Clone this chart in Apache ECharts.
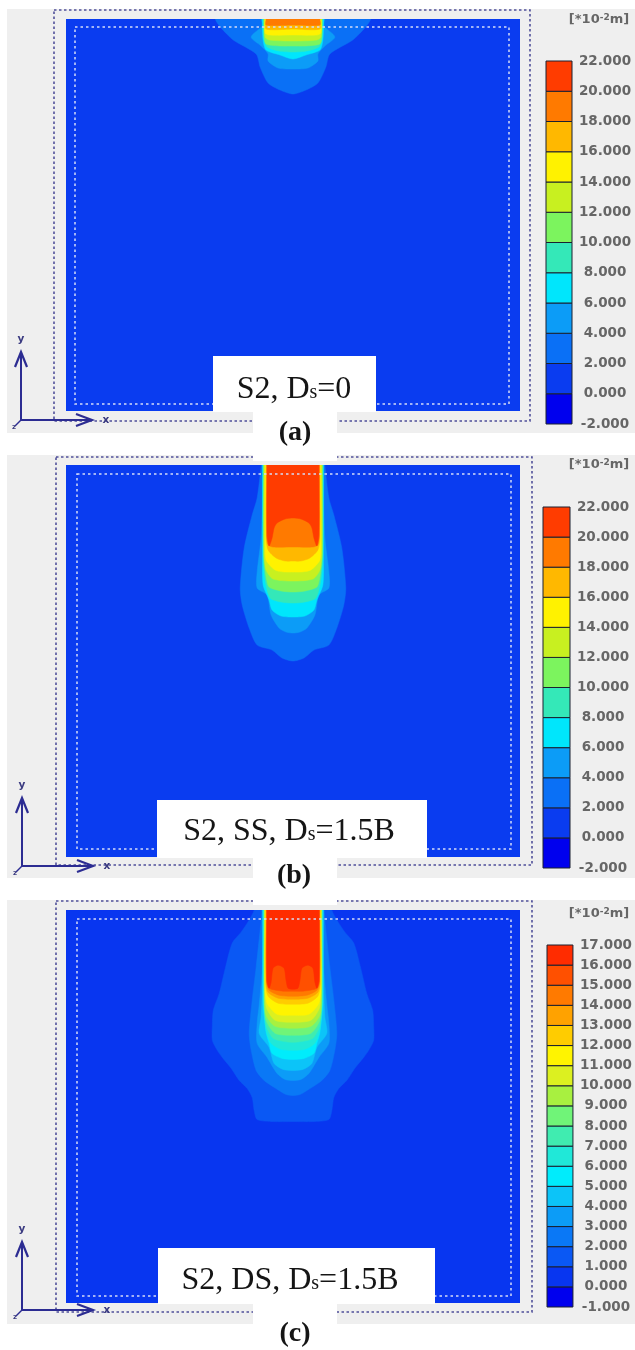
<!DOCTYPE html>
<html><head><meta charset="utf-8">
<style>html,body{margin:0;padding:0;background:#fff}#c{width:635px;height:1350px;filter:blur(0.55px)}</style>
<script src="https://cdn.jsdelivr.net/npm/echarts@6/dist/echarts.min.js"></script>
</head><body><div id="c"></div>
<script>
// ---- colour-bar tick labels (x 10^-2 m)
const ticksAB = [-2,0,2,4,6,8,10,12,14,16,18,20,22];
const ticksC = [-1,0,1,2,3,4,5,6,7,8,9,10,11,12,13,14,15,16,17];
const coloursAB = ['#0000ee','#0a3cf0','#0a70f6','#0c9cf7','#00e6fc','#34e8b8','#7cf45e','#c8f020','#fff200','#ffb800','#ff7a00','#ff3c00'];
const coloursC = ['#0000ee','#0836f0','#0a58f4','#0a78f6','#0c9cf7','#0cc4f8','#00ecfc','#20e8d8','#40ecb0','#70f478','#a8f040','#dcf020','#fff400','#ffcc00','#ffa200','#ff7a00','#ff5000','#ff2c00'];
// ---- contour half-profiles: [half-width, depth]; domain half-width 228, depth 392
const panelA_2 = [[78,0],[73,8],[60,21],[37,35],[33,48],[25,64],[13,71],[0,75]];
const panelA_4 = [[32,0],[30,6],[42,18],[32,27],[25,35],[25,42],[15,49],[0,50]];
const panelA_6 = [[31,0],[30,21],[27,31],[13,36],[0,40]];
const panelA_8 = [[30,0],[29,20],[26,28],[14,32],[0,33]];
const panelA_10 = [[29,0],[29,18],[27,25],[12,27],[0,27]];
const panelA_12 = [[29,0],[28,18],[24,21],[0,22]];
const panelA_14 = [[28,0],[28,14],[24,16],[0,16]];
const panelA_16 = [[27,0],[27,10],[0,10]];
const panelA_18 = [[27,0],[27,6],[0,6]];

const panelB_2 = [[32,0],[36,33],[41,50],[49,83],[53,123],[51,140],[44,163],[36,180],[21,185],[11,193],[0,196]];
const panelB_4 = [[31,0],[31,40],[32,73],[36,107],[36,123],[26,130],[22,150],[14,163],[7,167],[0,168]];
const panelB_6 = [[30.5,0],[30.5,90],[30,120],[24,135],[21,145],[12,151],[0,152]];
const panelB_8 = [[30,0],[30,90],[28,115],[23,133],[12,137],[0,138]];
const panelB_10 = [[29.5,0],[29.5,90],[27,112],[24,122],[12,126],[0,127]];
const panelB_12 = [[29,0],[29,85],[27,105],[20,114],[0,116]];
const panelB_14 = [[28,0],[28,75],[27,95],[18,105],[8,107],[0,107]];
const panelB_16 = [[27,0],[27,72],[25,85],[17,93],[8,96],[0,96]];
const panelB_18 = [[26.5,0],[26.5,70],[25,80],[20,82],[0,82]];
const panelB_20 = [[26,0],[26,70],[24,81],[21,73],[19,63],[16,58],[8,54],[0,53]];

const panelC_1 = [[39,0],[44,10],[52,22],[61,33],[68,58],[74,83],[80,100],[81,115],[81,130],[76,140],[71,147],[62,158],[54,170],[46,178],[41,187],[39,200],[36,209],[20,211],[0,211]];
const panelC_2 = [[31,0],[37,57],[41,90],[44,123],[42,140],[37,160],[29,170],[14,180],[7,184],[0,185]];
const panelC_3 = [[31,0],[31,60],[34,95],[36,113],[36,133],[26,147],[16,163],[8,169],[0,170]];
const panelC_4 = [[30.5,0],[30.5,70],[32,107],[34,123],[24,137],[19,153],[10,159],[0,160]];
const panelC_5 = [[30,0],[30,90],[27,122],[24,133],[21,143],[11,148],[0,149]];
const panelC_6 = [[29.5,0],[29.5,90],[27,120],[22,133],[12,139],[0,140]];
const panelC_7 = [[29,0],[29,90],[27,115],[20,128],[10,131],[0,132]];
const panelC_8 = [[29,0],[29,88],[27,110],[18,123],[0,125]];
const panelC_9 = [[28.5,0],[28.5,85],[27,105],[18,116],[0,118]];
const panelC_10 = [[28,0],[28,82],[26.5,98],[18,110],[0,112]];
const panelC_11 = [[28,0],[28,78],[26,93],[16,104],[0,105]];
const panelC_12 = [[27.5,0],[27.5,75],[25,86],[15,93],[0,94]];
const panelC_13 = [[27,0],[27,72],[25,82],[15,88],[0,89]];
const panelC_14 = [[26.5,0],[26.5,72],[24,80],[14,85],[0,86]];
const panelC_15 = [[26.5,0],[26.5,70],[24,78],[10,81],[0,81]];
const panelC_16 = [[26,0],[26,70],[24,78],[22,72],[20,58],[15,55],[9,58],[7,70],[5,78],[0,79]];

const panels = [
  {box:{left:66,top:19,width:454,height:392}, bar:{left:546,top:61,width:26,height:363}, ticks:ticksAB, step:2, cols:coloursAB,
   bands:[[2,panelA_2],[4,panelA_4],[6,panelA_6],[8,panelA_8],[10,panelA_10],[12,panelA_12],[14,panelA_14],[16,panelA_16],[18,panelA_18]]},
  {box:{left:66,top:465,width:454,height:392}, bar:{left:543,top:507,width:27,height:361}, ticks:ticksAB, step:2, cols:coloursAB,
   bands:[[2,panelB_2],[4,panelB_4],[6,panelB_6],[8,panelB_8],[10,panelB_10],[12,panelB_12],[14,panelB_14],[16,panelB_16],[18,panelB_18],[20,panelB_20]]},
  {box:{left:66,top:910,width:454,height:393}, bar:{left:547,top:945,width:26,height:362}, ticks:ticksC, step:1, cols:coloursC,
   bands:[[1,panelC_1],[2,panelC_2],[3,panelC_3],[4,panelC_4],[5,panelC_5],[6,panelC_6],[7,panelC_7],[8,panelC_8],[9,panelC_9],[10,panelC_10],[11,panelC_11],[12,panelC_12],[13,panelC_13],[14,panelC_14],[15,panelC_15],[16,panelC_16]]}
];

const grids=[],xAxes=[],yAxes=[],series=[];
function mirror(p){
  const r=p.map(q=>[q[0],q[1]]);
  const l=p.slice().reverse().filter(q=>q[0]!==0).map(q=>[-q[0],q[1]]);
  return [[p[0][0],-12],...r,...l,[-p[0][0],-12]];
}
function polySeries(g,points,colour,z,smooth){
  return {type:'custom',coordinateSystem:'cartesian2d',xAxisIndex:g,yAxisIndex:g,z:z,silent:true,clip:true,
    data:points,
    encode:{x:0,y:1},
    renderItem:function(params,api){
      if(params.dataIndex!==0) return null;
      return {type:'polygon',shape:{points:points.map(q=>api.coord(q)),smooth:smooth},style:{fill:colour,stroke:colour,lineWidth:0.5}};
    }};
}
panels.forEach(function(p){
  let g=grids.length;
  grids.push(Object.assign({show:false},p.box));
  xAxes.push({type:'value',gridIndex:g,min:-228,max:228,show:false});
  yAxes.push({type:'value',gridIndex:g,min:0,max:392,inverse:true,show:false});
  series.push(polySeries(g,[[-228,0],[228,0],[228,392],[-228,392]],p.cols[1],3,0));
  p.bands.forEach(function(b,i){
    const idx=p.ticks.indexOf(b[0]);
    series.push(polySeries(g,mirror(b[1]),p.cols[idx],4+i,0.25));
  });
  // colour bar
  let h=grids.length;
  grids.push(Object.assign({show:true,borderColor:'#1a1a30',borderWidth:1,backgroundColor:'#000'},p.bar));
  xAxes.push({type:'value',gridIndex:h,min:0,max:1,show:false});
  yAxes.push({type:'value',gridIndex:h,min:p.ticks[0],max:p.ticks[p.ticks.length-1],interval:p.step,position:'right',
    axisLine:{show:false},axisTick:{show:false},splitLine:{show:false},
    axisLabel:{show:true,margin:33,align:'center',color:'#666',fontFamily:'DejaVu Sans',fontWeight:'bold',fontSize:13.5,
      formatter:function(v){return v.toFixed(3);}}});
  const cells=p.cols.map((c,i)=>[p.ticks[i],p.ticks[i+1],i]);
  series.push({type:'custom',coordinateSystem:'cartesian2d',xAxisIndex:h,yAxisIndex:h,z:3,silent:true,
    data:cells,encode:{y:[0,1]},
    renderItem:function(params,api){
      const a=api.coord([0,api.value(1)]), b=api.coord([1,api.value(0)]);
      return {type:'rect',shape:{x:a[0],y:a[1],width:b[0]-a[0],height:b[1]-a[1]},
        style:{fill:p.cols[api.value(2)],stroke:'#1a2030',lineWidth:1}};
    }});
});

// ---- page furniture
const g=[];
const NAVY='#2c2c92';
function rect(x,y,w,h,fill,z){g.push({type:'rect',z:z,silent:true,shape:{x:x,y:y,width:w,height:h},style:{fill:fill}});}
function dash(x,y,w,h,col,d,lw){g.push({type:'rect',z:20,silent:true,shape:{x:x,y:y,width:w,height:h},style:{fill:'none',stroke:col,lineWidth:lw,lineDash:d}});}
function seg(pts,col,lw){g.push({type:'polyline',z:21,silent:true,shape:{points:pts},style:{fill:'none',stroke:col,lineWidth:lw}});}
function txt(x,y,s,extra){g.push({type:'text',z:40,silent:true,x:x,y:y,style:Object.assign({text:s,align:'center',verticalAlign:'middle'},extra)});}
const serif={a:{fontFamily:'Liberation Serif',fontSize:32,fill:'#151515',verticalAlign:'bottom',lineHeight:36,height:36},
             s:{fontFamily:'Liberation Serif',fontSize:20,fill:'#151515',verticalAlign:'bottom',lineHeight:30,height:30,padding:[12,0,0,0]}};
const unit={a:{fontFamily:'DejaVu Sans',fontWeight:'bold',fontSize:13,fill:'#666',verticalAlign:'bottom'},
            b:{fontFamily:'DejaVu Sans',fontWeight:'bold',fontSize:9,fill:'#666',verticalAlign:'top'}};
function furniture(o){
  rect(7,o.gy,628,o.gh,'#efefef',0);
  dash(o.ox,o.oy,476,o.oh,'#50509a',[2.5,2.5],1.6);
  dash(o.ix,o.iy,434,o.ih,'#d5dcf8',[2.5,3],1.5);
  // triad
  const X=o.tx,Y=o.ty;
  seg([[X,Y],[X,Y-68]],NAVY,2);
  seg([[X-6,Y-53],[X,Y-68],[X+6,Y-53]],NAVY,2.2);
  seg([[X,Y],[X+71,Y]],NAVY,2);
  seg([[X+55,Y-6],[X+71,Y],[X+55,Y+6]],NAVY,2.2);
  seg([[X,Y],[X-6,Y+6]],NAVY,1.5);
  const tri={fontFamily:'DejaVu Sans',fontWeight:'bold',fontSize:10.5,fill:'#3a3a80'};
  txt(X,Y-81,'y',tri); txt(X+85,Y,'x',tri); txt(X-7,Y+7,'z',Object.assign({},tri,{fontSize:7}));
  // white patches
  if(o.topNotch) rect(253,o.gy-1,84,o.topNotch,'#fff',22);
  rect(o.wx,o.wy,o.ww,o.wh,'#fff',22);
  rect(253,o.wy+o.wh-1,84,o.gy+o.gh-(o.wy+o.wh)+2,'#fff',22);
  txt(o.lx,o.ly,o.label,{rich:serif});
  txt(o.px,o.py,o.panel,{fontFamily:'Liberation Serif',fontWeight:'bold',fontSize:28,fill:'#151515'});
  txt(o.ux,o.uy,'{a|[*10}{b|-2}{a|m]}',{rich:unit});
}
furniture({gy:9,gh:424,ox:54,oy:10,oh:411,ix:75,iy:27,ih:377,tx:21,ty:420,
  wx:213,wy:356,ww:163,wh:56,lx:294,ly:390,label:'{a|S2, D}{s|s}{a|=0}',panel:'(a)',px:295,py:433,ux:599,uy:20});
furniture({gy:455,gh:423,topNotch:7,ox:56,oy:457,oh:408,ix:77,iy:474,ih:375,tx:22,ty:866,
  wx:157,wy:800,ww:270,wh:58,lx:289,ly:832,label:'{a|S2, SS, D}{s|s}{a|=1.5B}',panel:'(b)',px:294,py:876,ux:599,uy:465});
furniture({gy:900,gh:424,topNotch:6,ox:56,oy:901,oh:411,ix:77,iy:919,ih:377,tx:22,ty:1310,
  wx:158,wy:1248,ww:277,wh:56,lx:290,ly:1281,label:'{a|S2, DS, D}{s|s}{a|=1.5B}',panel:'(c)',px:295,py:1334,ux:599,uy:914});

const chart=echarts.init(document.getElementById('c'),null,{renderer:'canvas'});
chart.setOption({animation:false,backgroundColor:'#fff',grid:grids,xAxis:xAxes,yAxis:yAxes,series:series,graphic:{elements:g}});
</script></body></html>
